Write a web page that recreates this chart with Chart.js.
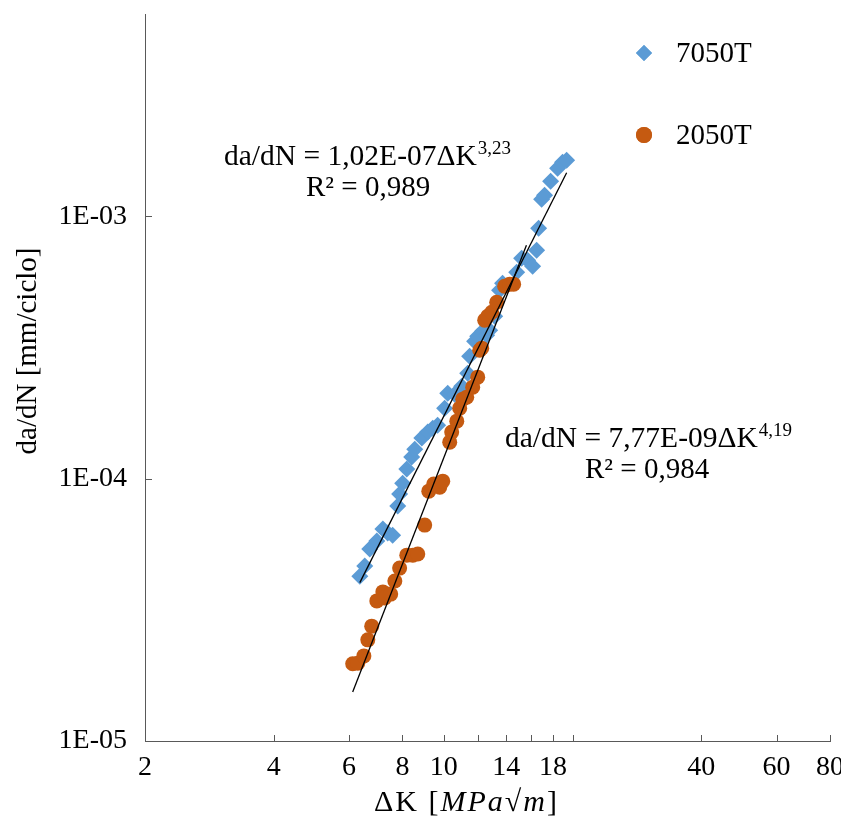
<!DOCTYPE html>
<html>
<head>
<meta charset="utf-8">
<script src="https://cdn.jsdelivr.net/npm/chart.js@4.4.0/dist/chart.umd.min.js"></script>
<style>
html, body { margin: 0; padding: 0; background: #fff; }
canvas { display: block; }
</style>
</head>
<body>
<canvas id="chart" width="841" height="821"></canvas>
<script>
// 7050T
var dk7050 = [6.36, 6.53, 6.71, 6.97, 7.20, 7.39, 7.59, 7.80, 7.88, 8.01, 8.19, 8.41, 8.55, 8.88, 9.17,
    9.42, 9.67, 10.04, 10.21, 10.60, 11.01, 11.37, 11.49, 11.80, 12.00, 12.32, 12.59, 12.80, 13.15,
    13.50, 13.72, 14.80, 15.20, 15.70, 16.13, 16.48, 16.66, 16.93, 17.20, 17.77, 18.45, 18.95, 19.37];
var rate7050 = [4.25e-5, 4.64e-5, 5.39e-5, 5.78e-5, 6.42e-5, 6.20e-5, 6.09e-5, 7.86e-5, 8.73e-5, 9.61e-5,
    1.087e-4, 1.208e-4, 1.295e-4, 1.427e-4, 1.504e-4, 1.557e-4, 1.599e-4, 1.856e-4, 2.117e-4, 2.099e-4,
    2.251e-4, 2.523e-4, 2.929e-4, 3.341e-4, 3.491e-4, 3.648e-4, 3.52e-4, 3.68e-4, 4.159e-4, 5.226e-4,
    5.555e-4, 6.118e-4, 6.918e-4, 6.797e-4, 6.448e-4, 7.422e-4, 9.001e-4, 1.161e-3, 1.202e-3, 1.359e-3,
    1.524e-3, 1.606e-3, 1.634e-3];

// 2050T
var dk2050 = [6.12, 6.29, 6.50, 6.64, 6.78, 6.97, 7.20, 7.27, 7.51, 7.68, 7.88, 8.19, 8.46, 8.69, 9.02,
    9.22, 9.47, 9.78, 9.94, 10.32, 10.43, 10.72, 10.89, 11.07, 11.31, 11.68, 12.00, 12.13, 12.26, 12.46,
    12.66, 12.94, 13.29, 13.87, 14.25, 14.56];
var rate2050 = [1.97e-5, 1.98e-5, 2.11e-5, 2.43e-5, 2.74e-5, 3.42e-5, 3.70e-5, 3.51e-5, 3.63e-5, 4.07e-5,
    4.56e-5, 5.11e-5, 5.11e-5, 5.16e-5, 6.65e-5, 8.96e-5, 9.53e-5, 9.28e-5, 9.78e-5, 1.377e-4, 1.504e-4,
    1.656e-4, 1.856e-4, 2.009e-4, 2.044e-4, 2.232e-4, 2.436e-4, 3.087e-4, 3.142e-4, 4.017e-4, 4.159e-4,
    4.308e-4, 4.702e-4, 5.413e-4, 5.508e-4, 5.51e-4];

// power-law fits da/dN = C * dK^m  [7050T, 2050T]
var fitC = [1.02e-7, 7.77e-9];
var fitM = [3.23, 4.19];
var fitFrom = [6.36, 6.12];
var fitTo = [19.37, 15.6];

var seriesNames = ['7050T', '2050T'];
var eqText = ['da/dN = 1,02E-07\u0394K', 'da/dN = 7,77E-09\u0394K'];
var eqExp = ['3,23', '4,19'];
var r2Text = ['R\u00b2 = 0,989', 'R\u00b2 = 0,984'];

var xTicks = [2, 4, 6, 8, 10, 12, 14, 16, 18, 20, 40, 60, 80];
var xLabels = [2, 4, 6, 8, 10, 14, 18, 40, 60, 80];
var yTicks = [1e-5, 1e-4, 1e-3];

var blue = '#5b9bd5';
var orange = '#c55a11';
var axisColor = '#595959';
var serif = '"Liberation Serif", "Times New Roman", serif';

function pts(xs, ys) {
    return xs.map(function (x, i) { return {x: x, y: ys[i]}; });
}
function fitLine(k) {
    var f = function (x) { return fitC[k] * Math.pow(x, fitM[k]); };
    return [{x: fitFrom[k], y: f(fitFrom[k])}, {x: fitTo[k], y: f(fitTo[k])}];
}

// tick marks drawn inwards, like the original
var innerTicks = {
    id: 'innerTicks',
    afterDraw: function (chart) {
        var ctx = chart.ctx, a = chart.chartArea, sx = chart.scales.x, sy = chart.scales.y;
        ctx.save();
        ctx.strokeStyle = axisColor;
        ctx.lineWidth = 1;
        ctx.beginPath();
        sx.ticks.forEach(function (t) {
            var px = Math.round(sx.getPixelForValue(t.value)) + 0.5;
            ctx.moveTo(px, a.bottom);
            ctx.lineTo(px, a.bottom - 6);
        });
        sy.ticks.forEach(function (t) {
            var py = Math.round(sy.getPixelForValue(t.value)) + 0.5;
            ctx.moveTo(a.left, py);
            ctx.lineTo(a.left + 7, py);
        });
        ctx.stroke();
        ctx.restore();
    }
};

var textLayer = {
    id: 'textLayer',
    afterDraw: function (chart) {
        var ctx = chart.ctx;
        ctx.save();
        ctx.fillStyle = '#000';
        ctx.textBaseline = 'alphabetic';
        ctx.textAlign = 'left';

        // equations
        var eqPos = [[224, 165, 306, 196], [505, 447, 585, 478]];
        eqPos.forEach(function (p, k) {
            ctx.font = '29.5px ' + serif;
            ctx.fillText(eqText[k], p[0], p[1]);
            var w = ctx.measureText(eqText[k]).width;
            ctx.font = '29px ' + serif;
            ctx.fillText(r2Text[k], p[2], p[3]);
            ctx.font = '19px ' + serif;
            ctx.fillText(eqExp[k], p[0] + w + 1, p[1] - 11);
        });

        // legend
        var legY = [53, 135];
        var colors = [blue, orange];
        var styles = ['rectRot', 'circle'];
        var radii = [8, 8];
        legY.forEach(function (y, k) {
            ctx.fillStyle = colors[k];
            ctx.beginPath();
            Chart.helpers.drawPoint(ctx, {pointStyle: styles[k], radius: radii[k], borderWidth: 0}, 644, y);
            ctx.fill();
            ctx.fillStyle = '#000';
            ctx.font = '29px ' + serif;
            ctx.textBaseline = 'middle';
            ctx.fillText(seriesNames[k], 676, y + 1);
        });

        // x title: ΔK [MPa√m]
        ctx.textBaseline = 'alphabetic';
        if ('letterSpacing' in ctx) ctx.letterSpacing = '2px';
        var parts = [['\u0394K [', false], ['MPa', true], ['\u221a', false], ['m', true], [']', false]];
        var x = 374;
        parts.forEach(function (p) {
            ctx.font = (p[1] ? 'italic ' : '') + '30px ' + serif;
            ctx.fillText(p[0], x, 811);
            x += ctx.measureText(p[0]).width;
        });
        if ('letterSpacing' in ctx) ctx.letterSpacing = '0px';

        // y title
        ctx.translate(28, 351);
        ctx.rotate(-Math.PI / 2);
        ctx.textAlign = 'center';
        ctx.textBaseline = 'middle';
        ctx.font = '29px ' + serif;
        ctx.fillText('da/dN [mm/ciclo]', 0, 0);
        ctx.restore();
    }
};

var ctx = document.getElementById('chart').getContext('2d');
new Chart(ctx, {
    type: 'scatter',
    data: {
        datasets: [
            {label: 'fit 7050T', type: 'line', data: fitLine(0), borderColor: '#000', borderWidth: 1.3,
                pointRadius: 0, fill: false},
            {label: 'fit 2050T', type: 'line', data: fitLine(1), borderColor: '#000', borderWidth: 1.3,
                pointRadius: 0, fill: false},
            {label: seriesNames[1], data: pts(dk2050, rate2050), pointStyle: 'circle', pointRadius: 7.5,
                backgroundColor: orange, borderColor: orange, borderWidth: 0},
            {label: seriesNames[0], data: pts(dk7050, rate7050), pointStyle: 'rectRot', pointRadius: 8.5,
                backgroundColor: blue, borderColor: blue, borderWidth: 0}
        ]
    },
    options: {
        responsive: false,
        animation: false,
        layout: {padding: {top: 14, right: 11, left: 0, bottom: 0}},
        plugins: {legend: {display: false}, tooltip: {enabled: false}},
        scales: {
            x: {
                type: 'logarithmic',
                min: 2,
                max: 80,
                afterBuildTicks: function (s) { s.ticks = xTicks.map(function (v) { return {value: v}; }); },
                afterFit: function (s) { s.height = 80; s.paddingLeft = 0; s.paddingRight = 0; },
                grid: {display: false, drawTicks: false},
                border: {display: true, color: axisColor, width: 1},
                ticks: {
                    autoSkip: false,
                    maxRotation: 0,
                    padding: 10,
                    color: '#000',
                    font: {family: serif, size: 28},
                    callback: function (v) { return xLabels.indexOf(v) >= 0 ? String(v) : ''; }
                }
            },
            y: {
                type: 'logarithmic',
                min: 1e-5,
                max: 5.9e-3,
                afterBuildTicks: function (s) { s.ticks = yTicks.map(function (v) { return {value: v}; }); },
                afterFit: function (s) { s.width = 145; s.paddingTop = 0; s.paddingBottom = 0; },
                grid: {display: false, drawTicks: false},
                border: {display: true, color: axisColor, width: 1},
                ticks: {
                    padding: 18,
                    color: '#000',
                    font: {family: serif, size: 28},
                    callback: function (v) {
                        return '1E-' + String(-Math.round(Math.log10(v))).padStart(2, '0');
                    }
                }
            }
        }
    },
    plugins: [innerTicks, textLayer]
});
</script>
</body>
</html>
